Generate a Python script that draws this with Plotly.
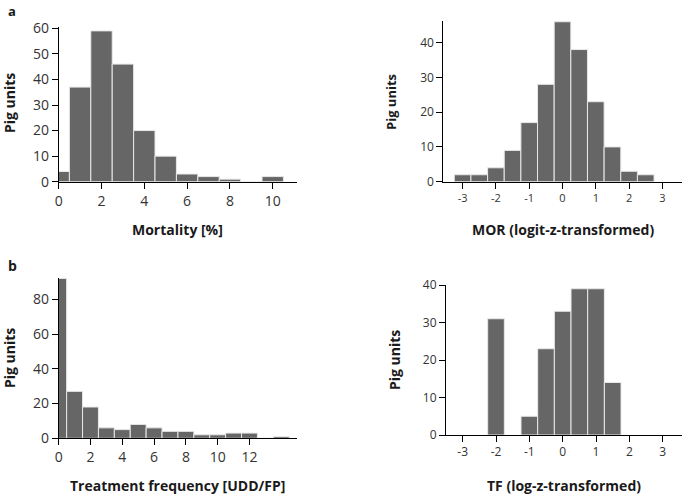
import plotly.graph_objects as go

W, H = 685, 497

# ---- data ----
mort_centers = [0, 1, 2, 3, 4, 5, 6, 7, 8, 9, 10]
mort_counts = [4, 37, 59, 46, 20, 10, 3, 2, 1, 0, 2]

mor_centers = [-3, -2.5, -2, -1.5, -1, -0.5, 0, 0.5, 1, 1.5, 2, 2.5]
mor_counts = [2, 2, 4, 9, 17, 28, 46, 38, 23, 10, 3, 2]

tf_centers = [0, 1, 2, 3, 4, 5, 6, 7, 8, 9, 10, 11, 12, 13, 14]
tf_counts = [92, 27, 18, 6, 5, 8, 6, 4, 4, 2, 2, 3, 3, 0, 1]

tfz_centers = [-2, -1, -0.5, 0, 0.5, 1, 1.5]
tfz_counts = [31, 5, 23, 33, 39, 39, 14]

BAR = "#666666"
EDGE = "#e8e8e8"
FONT = "Open Sans"

def px_x(p):
    return p / W

def px_y(p):
    return 1 - p / H

fig = go.Figure()

def add_hist(centers, counts, width, xa, ya):
    fig.add_trace(go.Bar(
        x=centers, y=counts, width=width,
        marker=dict(color=BAR, line=dict(color=EDGE, width=1)),
        xaxis=xa, yaxis=ya, showlegend=False, hoverinfo="skip",
    ))

add_hist(mort_centers, mort_counts, 1, "x", "y")
add_hist(mor_centers, mor_counts, 0.5, "x2", "y2")
add_hist(tf_centers, tf_counts, 1, "x3", "y3")
add_hist(tfz_centers, tfz_counts, 0.5, "x4", "y4")

def xaxis(dom, rng, tickvals, size, anchor):
    return dict(domain=dom, range=rng, tickvals=tickvals,
                ticktext=[str(v) for v in tickvals],
                showline=True, linecolor="black", linewidth=1,
                ticks="outside", ticklen=6, tickcolor="black", tickwidth=1,
                showgrid=False, zeroline=False, anchor=anchor, automargin=False,
                fixedrange=True,
                tickfont=dict(family=FONT, size=size, color="#333333"))

def yaxis(dom, rng, tickvals, size, anchor):
    return dict(domain=dom, range=rng, tickvals=tickvals,
                showline=True, linecolor="black", linewidth=1,
                ticks="outside", ticklen=6, tickcolor="black", tickwidth=1,
                showgrid=False, zeroline=False, anchor=anchor, automargin=False,
                fixedrange=True,
                tickfont=dict(family=FONT, size=size, color="#333333"))

fig.update_layout(
    width=W, height=H, autosize=False,
    margin=dict(l=0, r=0, t=0, b=0, pad=0),
    paper_bgcolor="white", plot_bgcolor="white",
    bargap=0,
    xaxis=xaxis([px_x(58.7), px_x(296.7)], [0, 11.12], [0, 2, 4, 6, 8, 10], 14, "y"),
    yaxis=yaxis([px_y(181.7), px_y(27.3)], [0, 60.4], [0, 10, 20, 30, 40, 50, 60], 14, "x"),
    xaxis2=xaxis([px_x(443.3), px_x(681.7)], [-3.58, 3.58], [-3, -2, -1, 0, 1, 2, 3], 11, "y2"),
    yaxis2=yaxis([px_y(181.7), px_y(20.7)], [0, 46.3], [0, 10, 20, 30, 40], 12, "x2"),
    xaxis3=xaxis([px_x(58.7), px_x(296.7)], [0, 14.97], [0, 2, 4, 6, 8, 10, 12], 14, "y3"),
    yaxis3=yaxis([px_y(438.3), px_y(277.7)], [0, 92.4], [0, 20, 40, 60, 80], 14, "x3"),
    xaxis4=xaxis([px_x(446), px_x(681.7)], [-3.5, 3.57], [-3, -2, -1, 0, 1, 2, 3], 12, "y4"),
    yaxis4=yaxis([px_y(435), px_y(285)], [0, 40], [0, 10, 20, 30, 40], 12, "x4"),
)

def ann(text, x, y, size, angle=0, yanchor="middle"):
    fig.add_annotation(text=text, x=px_x(x), y=px_y(y), xref="paper", yref="paper",
                       showarrow=False, textangle=angle, xanchor="center", yanchor=yanchor,
                       font=dict(family=FONT, size=size, color="#1a1a1a", weight="bold"))

ann("a", 12, 0, 13, yanchor="top")
ann("b", 12, 265, 14)
ann("Pig units", 9, 103, 14, -90)
ann("Pig units", 391, 102, 13, -90)
ann("Pig units", 9, 358, 14, -90)
ann("Pig units", 394, 360, 14, -90)
ann("Mortality [%]", 177.5, 229, 14)
ann("MOR (logit-z-transformed)", 562.5, 229, 14)
ann("Treatment frequency [UDD/FP]", 177.5, 485, 14)
ann("TF (log-z-transformed)", 563.5, 485, 14)

fig.write_html("out.html", config={"displayModeBar": False, "staticPlot": True},
               post_script="document.body.style.margin='0';document.body.style.overflow='hidden';")
